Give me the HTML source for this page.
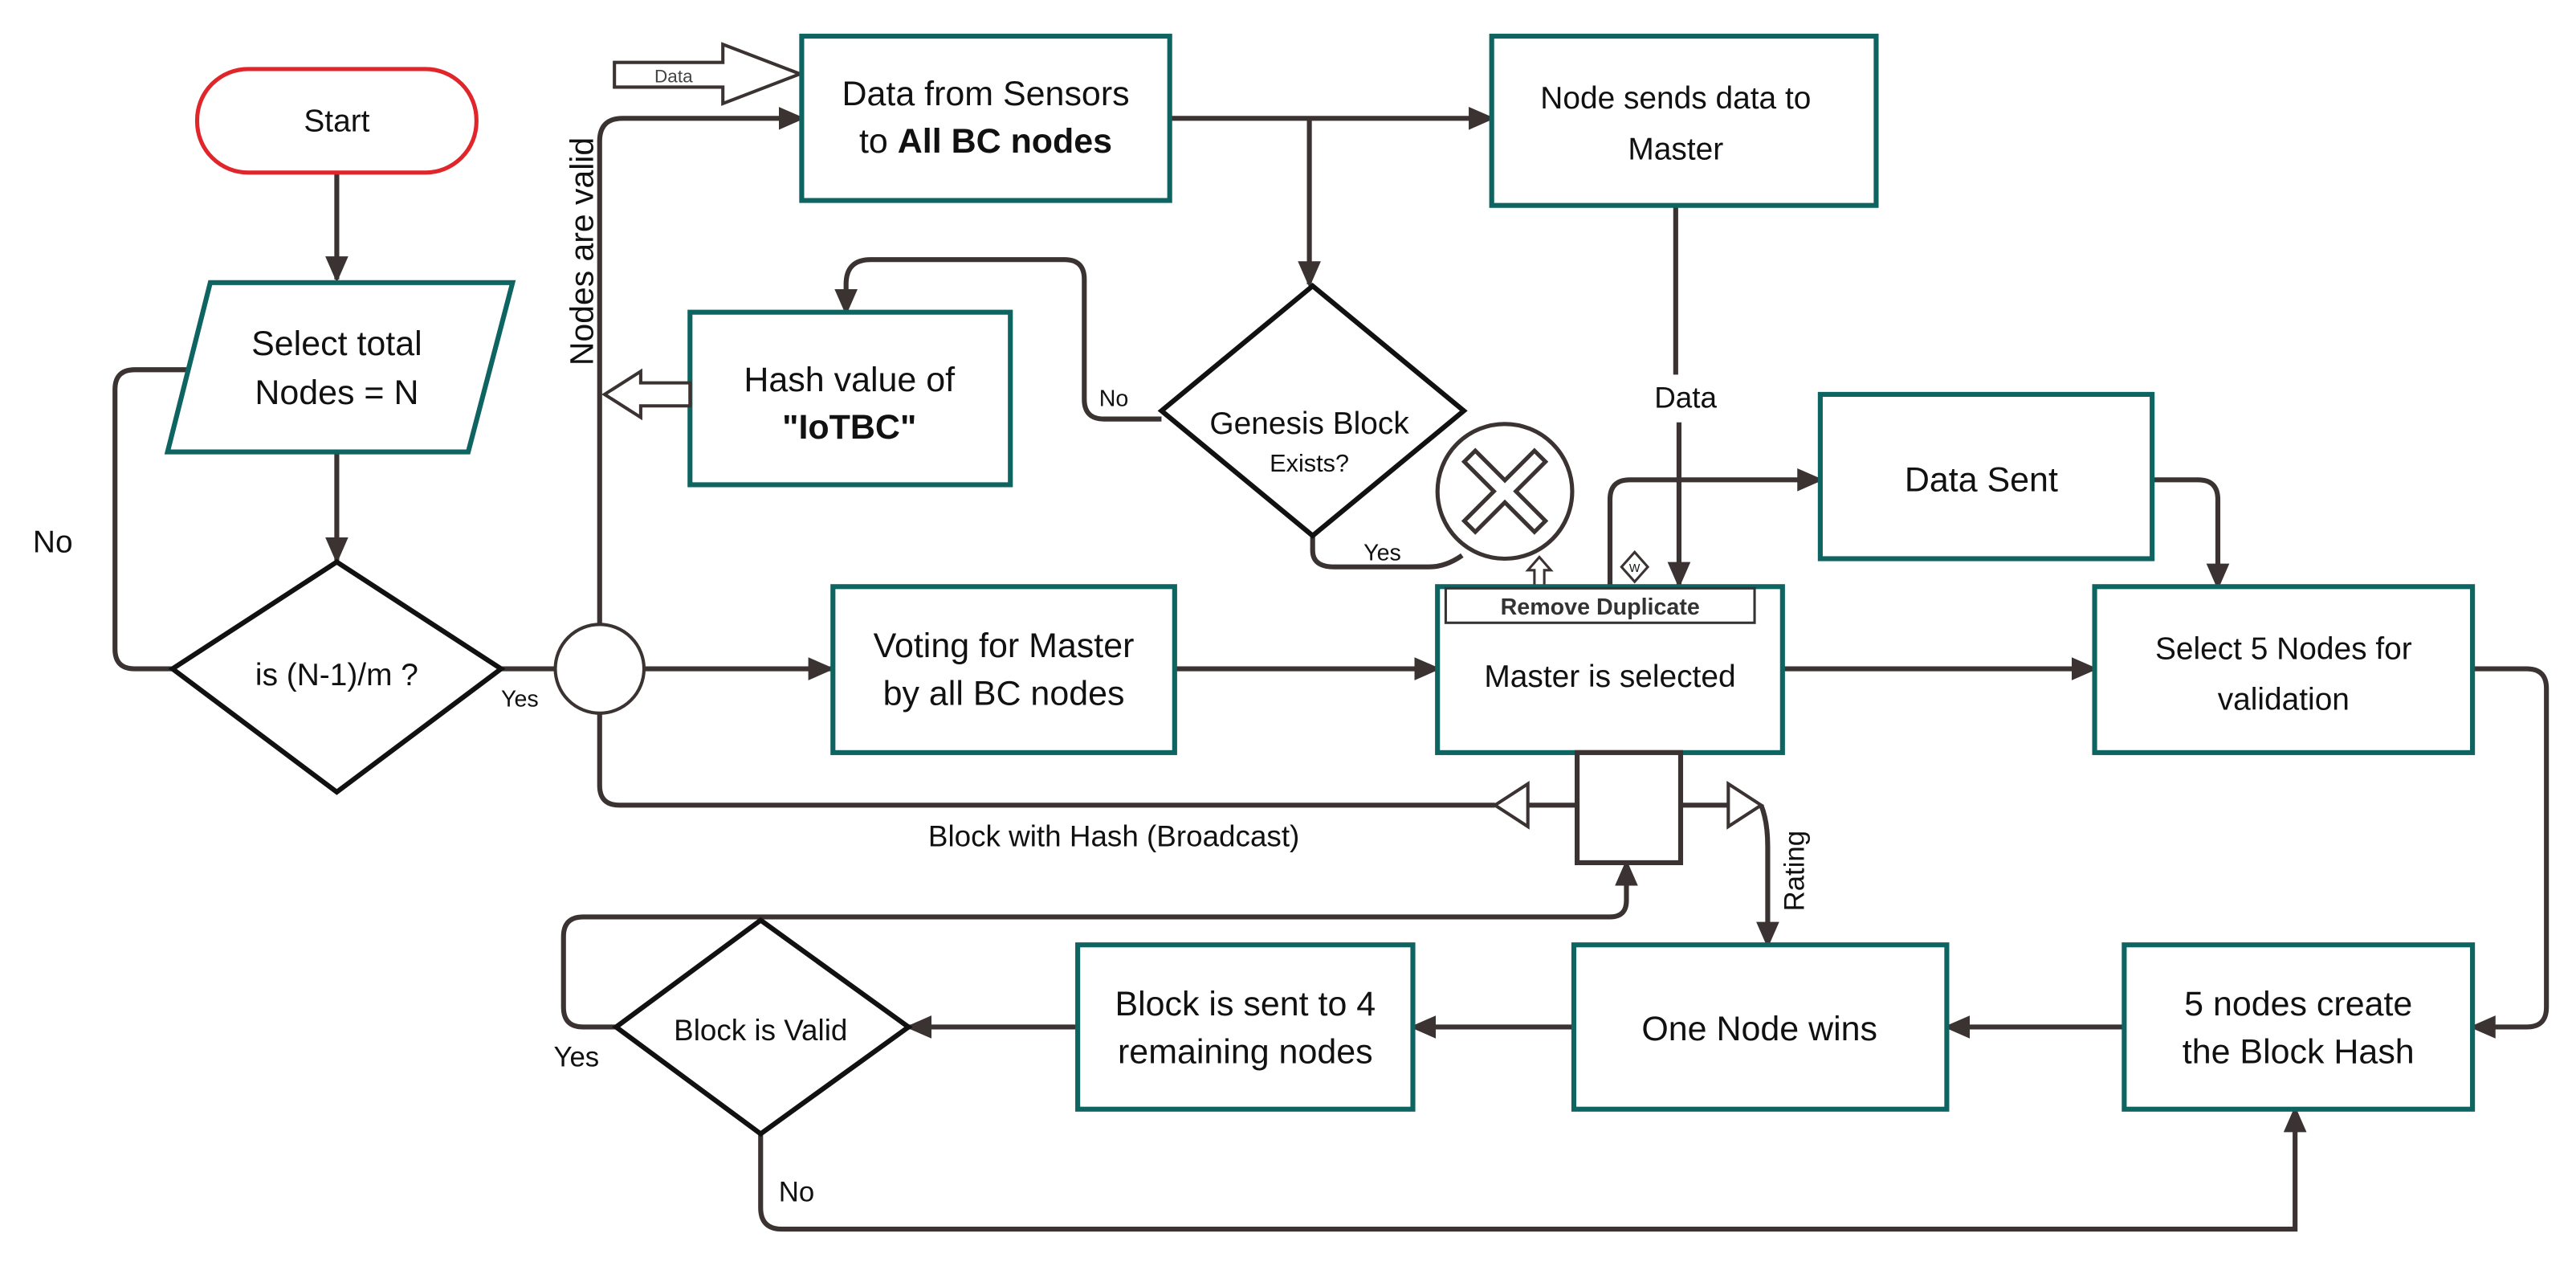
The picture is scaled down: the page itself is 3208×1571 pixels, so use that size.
<!DOCTYPE html>
<html><head><meta charset="utf-8"><style>
html,body{margin:0;padding:0;background:#fff;}
svg{display:block;}
text{font-family:"Liberation Sans",sans-serif;fill:#111;}
</style></head><body>
<svg width="3208" height="1571" viewBox="0 0 1568 768" preserveAspectRatio="none" xmlns="http://www.w3.org/2000/svg">
<defs>
<marker id="a" markerWidth="16" markerHeight="16" refX="14" refY="8" orient="auto" markerUnits="userSpaceOnUse" viewBox="0 0 16 16">
<path d="M0,1 L16,8 L0,15 z" fill="#3b3232"/></marker>
</defs>
<g fill="none" stroke="#3b3232" stroke-width="3">
<path d="M205,106 V170" marker-end="url(#a)"/>
<path d="M205,276 V341" marker-end="url(#a)"/>
<path d="M122,225 H82 Q70,225 70,237 V395 Q70,407 82,407 H105"/>
<path d="M305,407 H338"/>
<path d="M392,407 H506" marker-end="url(#a)"/>
<path d="M365,380 V86 Q365,72 379,72 H488" marker-end="url(#a)"/>
<path d="M365,434 V478 Q365,490 377,490 H910"/>
<path d="M930,490 H960"/>
<path d="M1023,490 H1052"/>
<path d="M1072,490 Q1076,500 1076,515 V575" marker-end="url(#a)"/>
<path d="M712,72 H908" marker-end="url(#a)"/>
<path d="M797,72 V173" marker-end="url(#a)"/>
<path d="M707,255 H672 Q660,255 660,243 V170 Q660,158 648,158 H530 Q515,158 515,173 V190" marker-end="url(#a)"/>
<path d="M799,326 V335 Q799,345 812,345 H870 Q880,345 890,338"/>
<path d="M1020,125 V228"/>
<path d="M1022,257 V356" marker-end="url(#a)"/>
<path d="M980,357 V304 Q980,292 992,292 H1108" marker-end="url(#a)"/>
<path d="M715,407 H875" marker-end="url(#a)"/>
<path d="M1085,407 H1275" marker-end="url(#a)"/>
<path d="M1310,292 H1338 Q1350,292 1350,304 V357" marker-end="url(#a)"/>
<path d="M1505,407 H1538 Q1550,407 1550,419 V613 Q1550,625 1538,625 H1505" marker-end="url(#a)"/>
<path d="M1293,625 H1185" marker-end="url(#a)"/>
<path d="M958,625 H860" marker-end="url(#a)"/>
<path d="M656,625 H553" marker-end="url(#a)"/>
<path d="M375,625 H355 Q343,625 343,613 V570 Q343,558 355,558 H980 Q990,558 990,548 V525" marker-end="url(#a)"/>
<path d="M463,690 V735 Q463,748 476,748 H1397 V675" marker-end="url(#a)"/>
</g>
<rect x="120" y="42" width="170" height="63" rx="31" fill="#fff" stroke="#e0262b" stroke-width="2.5"/>
<text x="205" y="80" font-size="19" text-anchor="middle">Start</text>
<polygon points="128,172 312,172 285,275 102,275" fill="#fff" stroke="#0e6461" stroke-width="3"/>
<text x="205" y="216" font-size="21" text-anchor="middle">Select total</text>
<text x="205" y="246" font-size="21" text-anchor="middle">Nodes = N</text>
<polygon points="205,342 305,407 205,482 105,407" fill="#fff" stroke="#111" stroke-width="3"/>
<text x="205" y="417" font-size="19" text-anchor="middle">is (N-1)/m ?</text>
<text x="20" y="336" font-size="19">No</text>
<text x="305" y="430" font-size="14">Yes</text>
<ellipse cx="365" cy="407" rx="27" ry="27" fill="#fff" stroke="#3b3232" stroke-width="2"/>
<text transform="translate(361,153) rotate(-90)" font-size="20" text-anchor="middle">Nodes are valid</text>
<polygon points="374,38 440,38 440,27 487,45 440,63 440,53 374,53" fill="#fff" stroke="#3b3232" stroke-width="2"/>
<text x="410" y="50" font-size="11" text-anchor="middle" style="fill:#444">Data</text>
<rect x="488" y="22" width="224" height="100" fill="#fff" stroke="#0e6461" stroke-width="3"/>
<text x="600" y="64" font-size="21" text-anchor="middle">Data from Sensors</text>
<text x="600" y="93" font-size="21" text-anchor="middle">to <tspan font-weight="bold">All BC nodes</tspan></text>
<rect x="908" y="22" width="234" height="103" fill="#fff" stroke="#0e6461" stroke-width="3"/>
<text x="1020" y="66" font-size="19" text-anchor="middle">Node sends data to</text>
<text x="1020" y="97" font-size="19" text-anchor="middle">Master</text>
<rect x="420" y="190" width="195" height="105" fill="#fff" stroke="#0e6461" stroke-width="3"/>
<text x="517" y="238" font-size="21" text-anchor="middle">Hash value of</text>
<text x="517" y="267" font-size="21" font-weight="bold" text-anchor="middle">"IoTBC"</text>
<polygon points="420,233 390,233 390,226 368,240 390,254 390,247 420,247" fill="#fff" stroke="#3b3232" stroke-width="2"/>
<polygon points="799,174 891,250 799,326 707,250" fill="#fff" stroke="#111" stroke-width="3"/>
<text x="797" y="264" font-size="19" text-anchor="middle">Genesis Block</text>
<text x="797" y="287" font-size="15" text-anchor="middle">Exists?</text>
<text x="669" y="247" font-size="14">No</text>
<text x="830" y="341" font-size="14">Yes</text>
<circle cx="916" cy="299" r="41" fill="#fff" stroke="#3b3232" stroke-width="2.5"/>
<path d="M898,281 L934,317 M934,281 L898,317" stroke="#3b3232" stroke-width="12" stroke-linecap="square"/>
<path d="M898,281 L934,317 M934,281 L898,317" stroke="#fff" stroke-width="7" stroke-linecap="square"/>
<polygon points="937,339 944,347 940,347 940,357 934,357 934,347 930,347" fill="#fff" stroke="#3b3232" stroke-width="1.5"/>
<text x="1026" y="248" font-size="18" text-anchor="middle">Data</text>
<polygon points="995,336 1003,345 995,354 987,345" fill="#fff" stroke="#3b3232" stroke-width="1.5"/>
<text x="995" y="348" font-size="7" text-anchor="middle">W</text>
<rect x="875" y="357" width="210" height="101" fill="#fff" stroke="#0e6461" stroke-width="3"/>
<rect x="880" y="358" width="188" height="21" fill="#fff" stroke="#333" stroke-width="1.5"/>
<text x="974" y="374" font-size="14" font-weight="bold" text-anchor="middle" style="fill:#333">Remove Duplicate</text>
<text x="980" y="418" font-size="19" text-anchor="middle">Master is selected</text>
<rect x="507" y="357" width="208" height="101" fill="#fff" stroke="#0e6461" stroke-width="3"/>
<text x="611" y="400" font-size="21" text-anchor="middle">Voting for Master</text>
<text x="611" y="429" font-size="21" text-anchor="middle">by all BC nodes</text>
<rect x="1108" y="240" width="202" height="100" fill="#fff" stroke="#0e6461" stroke-width="3"/>
<text x="1206" y="299" font-size="21" text-anchor="middle">Data Sent</text>
<rect x="1275" y="357" width="230" height="101" fill="#fff" stroke="#0e6461" stroke-width="3"/>
<text x="1390" y="401" font-size="19" text-anchor="middle">Select 5 Nodes  for</text>
<text x="1390" y="432" font-size="19" text-anchor="middle">validation</text>
<rect x="960" y="458" width="63" height="67" fill="#fff" stroke="#3b3232" stroke-width="3"/>
<polygon points="910,490 930,477 930,503" fill="#fff" stroke="#3b3232" stroke-width="2"/>
<polygon points="1072,490 1052,477 1052,503" fill="#fff" stroke="#3b3232" stroke-width="2"/>
<text transform="translate(1098,530) rotate(-90)" font-size="17" text-anchor="middle">Rating</text>
<text x="678" y="515" font-size="18" text-anchor="middle">Block with Hash (Broadcast)</text>
<rect x="1293" y="575" width="212" height="100" fill="#fff" stroke="#0e6461" stroke-width="3"/>
<text x="1399" y="618" font-size="21" text-anchor="middle">5 nodes create</text>
<text x="1399" y="647" font-size="21" text-anchor="middle">the Block Hash</text>
<rect x="958" y="575" width="227" height="100" fill="#fff" stroke="#0e6461" stroke-width="3"/>
<text x="1071" y="633" font-size="21" text-anchor="middle">One Node wins</text>
<rect x="656" y="575" width="204" height="100" fill="#fff" stroke="#0e6461" stroke-width="3"/>
<text x="758" y="618" font-size="21" text-anchor="middle">Block is sent to 4</text>
<text x="758" y="647" font-size="21" text-anchor="middle">remaining nodes</text>
<polygon points="463,560 553,625 463,690 375,625" fill="#fff" stroke="#111" stroke-width="3"/>
<text x="463" y="633" font-size="18" text-anchor="middle">Block is Valid</text>
<text x="337" y="649" font-size="17">Yes</text>
<text x="474" y="731" font-size="17">No</text>
</svg>
</body></html>
